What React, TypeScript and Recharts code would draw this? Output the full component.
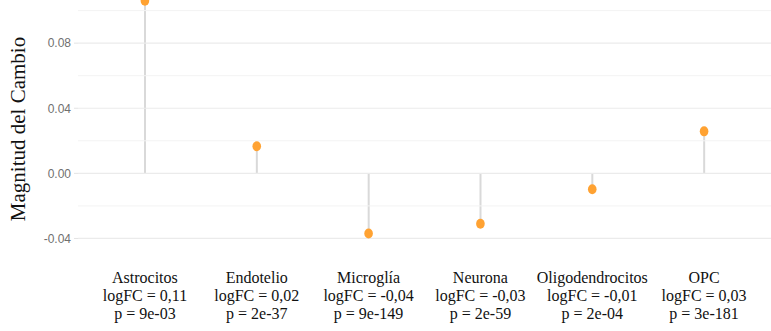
import React from 'react';
import { ComposedChart, Bar, Line, XAxis, YAxis, ReferenceLine, Label } from 'recharts';

// Cell types and their change values
const cellTypes = ['Astrocitos', 'Endotelio', 'Microglía', 'Neurona', 'Oligodendrocitos', 'OPC'];
const changeValues = [0.106, 0.0166, -0.037, -0.031, -0.0098, 0.0258];
const logFCLabels = ['0,11', '0,02', '-0,04', '-0,03', '-0,01', '0,03'];
const pValueLabels = ['9e-03', '2e-37', '9e-149', '2e-59', '2e-04', '3e-181'];

const majorTicks = [-0.04, 0, 0.04, 0.08];
const minorTicks = [-0.02, 0.02, 0.06, 0.1];

const data = cellTypes.map((name, i) => ({
    name,
    value: changeValues[i],
}));

const serif = '"Liberation Serif", serif';

function CellTick(props: any) {
    const { x, y, payload } = props;
    const i = payload.index;
    return (
        <text x={x} y={y} textAnchor="middle" fontFamily={serif} fontSize={16} fill="#111">
            <tspan x={x} dy={17}>{cellTypes[i]}</tspan>
            <tspan x={x} dy={18}>{`logFC = ${logFCLabels[i]}`}</tspan>
            <tspan x={x} dy={18}>{`p = ${pValueLabels[i]}`}</tspan>
        </text>
    );
}

function Lollipop(props: any) {
    const { cx, cy } = props;
    if (cx == null || cy == null) return null;
    return <ellipse cx={cx} cy={cy} rx={4.3} ry={5} fill="#FFA232" />;
}

export default function App() {
    return (
        <div style={{ position: 'absolute', left: 0, top: 0, background: '#fff' }}>
            <ComposedChart
                width={771}
                height={331}
                data={data}
                margin={{ top: 0, right: 0, bottom: 0, left: 0 }}
            >
                <XAxis
                    dataKey="name"
                    type="category"
                    padding={{ left: 11, right: 11 }}
                    axisLine={false}
                    tickLine={false}
                    height={73}
                    interval={0}
                    tick={<CellTick />}
                />
                <YAxis
                    type="number"
                    domain={[-0.052, 0.1065]}
                    ticks={majorTicks}
                    allowDataOverflow
                    width={78}
                    axisLine={false}
                    tickLine={{ stroke: '#e3e3e3' }}
                    tickSize={4}
                    tickMargin={3}
                    tickFormatter={(v: number) => v.toFixed(2)}
                    tick={{ fontFamily: '"Liberation Sans", Arial, sans-serif', fontSize: 12, fill: '#6f6f6f' }}
                >
                    <Label
                        value="Magnitud del Cambio"
                        angle={-90}
                        position="insideLeft"
                        offset={18}
                        style={{ textAnchor: 'middle', fontFamily: serif, fontSize: 21, fill: '#111' }}
                    />
                </YAxis>
                {minorTicks.map((t) => (
                    <ReferenceLine key={`minor-${t}`} y={t} stroke="#f3f3f3" strokeWidth={1} />
                ))}
                {majorTicks.map((t) => (
                    <ReferenceLine key={`major-${t}`} y={t} stroke="#ebebeb" strokeWidth={1.2} />
                ))}
                <Bar dataKey="value" barSize={2} fill="#d9d9d9" isAnimationActive={false} />
                <Line
                    dataKey="value"
                    stroke="none"
                    dot={<Lollipop />}
                    activeDot={false}
                    isAnimationActive={false}
                />
            </ComposedChart>
        </div>
    );
}
